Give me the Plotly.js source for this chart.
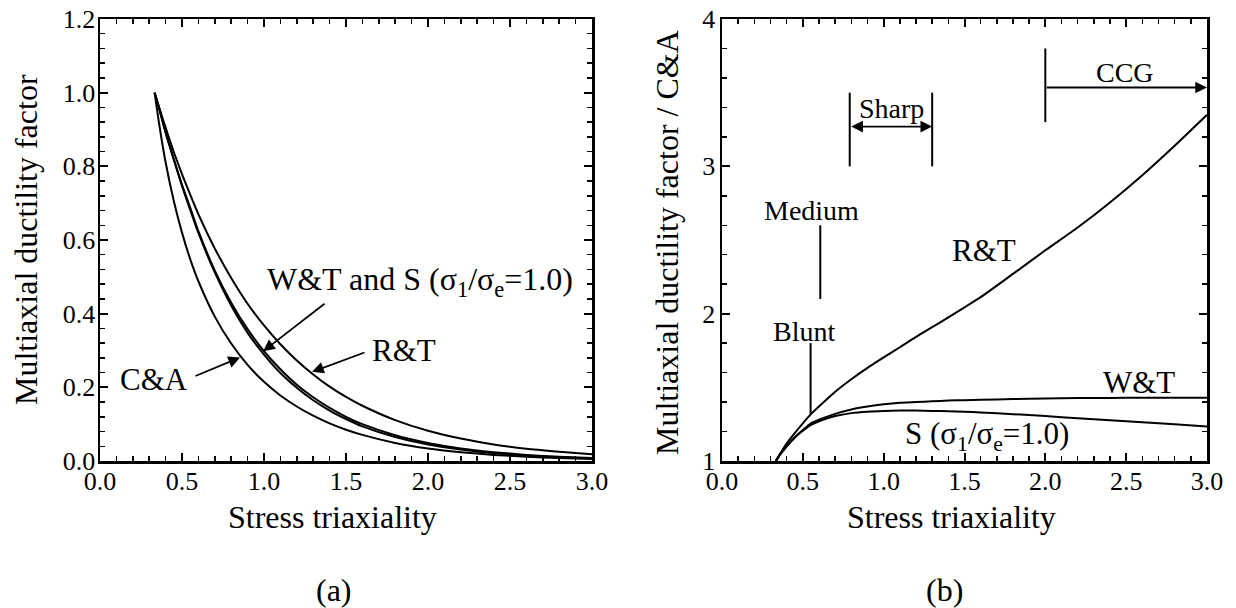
<!DOCTYPE html>
<html>
<head>
<meta charset="utf-8">
<script src="https://cdn.plot.ly/plotly-3.0.1.min.js"></script>
<style>html,body{margin:0;padding:0;background:#fff;}#chart{width:1236px;height:608px;}</style>
</head>
<body>
<div id="chart"></div>
<script>
// ---------------- data ----------------
// Stress triaxiality sample points
const triax = [0.333, 0.36, 0.4, 0.45, 0.5, 0.55, 0.6, 0.7, 0.8, 0.9, 1.0, 1.1, 1.2, 1.3, 1.4, 1.5, 1.6, 1.8, 2.0, 2.2, 2.4, 2.6, 2.8, 3.0];

// (a) Multiaxial ductility factor
const mdfCA = [1.0, 0.917, 0.811, 0.706, 0.620, 0.548, 0.488, 0.392, 0.319, 0.261, 0.215, 0.178, 0.148, 0.123, 0.102, 0.085, 0.071, 0.049, 0.034, 0.024, 0.0166, 0.0116, 0.0081, 0.0056];
const mdfRT = [1.0, 0.961, 0.905, 0.839, 0.779, 0.723, 0.670, 0.577, 0.497, 0.427, 0.368, 0.317, 0.273, 0.235, 0.202, 0.174, 0.150, 0.111, 0.082, 0.061, 0.045, 0.033, 0.025, 0.018];
const mdfWT = [1.0, 0.958, 0.892, 0.819, 0.750, 0.688, 0.624, 0.517, 0.430, 0.358, 0.298, 0.249, 0.207, 0.173, 0.144, 0.120, 0.100, 0.070, 0.049, 0.034, 0.024, 0.0166, 0.0115, 0.0080];
const mdfS  = [1.0, 0.958, 0.892, 0.819, 0.747, 0.682, 0.619, 0.512, 0.422, 0.348, 0.289, 0.239, 0.199, 0.165, 0.137, 0.114, 0.094, 0.065, 0.045, 0.031, 0.021, 0.0146, 0.0101, 0.0069];

// (b) Multiaxial ductility factor / C&A
const ratioRT = [1.0, 1.05, 1.12, 1.19, 1.256, 1.318, 1.37, 1.47, 1.555, 1.632, 1.703, 1.772, 1.842, 1.908, 1.975, 2.043, 2.112, 2.27, 2.43, 2.585, 2.755, 2.94, 3.14, 3.35];
const ratioWT = [1.0, 1.045, 1.10, 1.16, 1.21, 1.255, 1.28, 1.32, 1.35, 1.37, 1.385, 1.395, 1.40, 1.405, 1.41, 1.413, 1.415, 1.42, 1.425, 1.427, 1.428, 1.429, 1.43, 1.43];
const ratioS  = [1.0, 1.045, 1.10, 1.16, 1.205, 1.245, 1.27, 1.305, 1.325, 1.335, 1.34, 1.342, 1.342, 1.34, 1.338, 1.335, 1.33, 1.318, 1.305, 1.29, 1.277, 1.263, 1.25, 1.235];

// Notch-type ranges on panel (b)
const notchNames  = ['Blunt', 'Medium', 'Sharp', 'CCG'];
const bluntMark   = {x: 0.548, y: [1.317, 1.80]};
const mediumMark  = {x: 0.608, y: [2.10, 2.60]};
const sharpMarks  = {x: [0.79, 1.30], y: [3.0, 3.5], arrowY: 3.27};
const ccgMark     = {x: [2.0, 3.0], y: [3.30, 3.80], arrowY: 3.535};

// ---------------- drawing ----------------
const FONT = 'Liberation Serif, Times New Roman, serif';
const black = '#000';
const lineStyle = {color: black, width: 2, shape: 'spline', smoothing: 0.6};

const traces = [
  {x: triax, y: mdfCA, xaxis: 'x', yaxis: 'y', mode: 'lines', line: lineStyle, name: 'C&A'},
  {x: triax, y: mdfRT, xaxis: 'x', yaxis: 'y', mode: 'lines', line: lineStyle, name: 'R&T'},
  {x: triax, y: mdfWT, xaxis: 'x', yaxis: 'y', mode: 'lines', line: lineStyle, name: 'W&T'},
  {x: triax, y: mdfS,  xaxis: 'x', yaxis: 'y', mode: 'lines', line: lineStyle, name: 'S'},
  {x: triax, y: ratioRT, xaxis: 'x2', yaxis: 'y2', mode: 'lines', line: lineStyle, name: 'R&T/C&A'},
  {x: triax, y: ratioWT, xaxis: 'x2', yaxis: 'y2', mode: 'lines', line: lineStyle, name: 'W&T/C&A'},
  {x: triax, y: ratioS,  xaxis: 'x2', yaxis: 'y2', mode: 'lines', line: lineStyle, name: 'S/C&A'}
];

const W = 1236, H = 608;
const px = v => v / W, py = v => (H - v) / H;

function axisBase(extra) {
  return Object.assign({
    showline: true, linecolor: black, linewidth: 2.5, mirror: 'allticks',
    ticks: 'inside', ticklen: 8, tickwidth: 2, tickcolor: black,
    showgrid: false, zeroline: false,
    tickfont: {family: FONT, size: 26, color: black},
    fixedrange: true
  }, extra);
}
const minorX = {dtick: 0.1, ticklen: 5, tickwidth: 1.5, ticks: 'inside', tickcolor: black};

const layout = {
  width: W, height: H,
  margin: {l: 0, r: 0, t: 0, b: 0},
  paper_bgcolor: '#fff', plot_bgcolor: '#fff',
  showlegend: false,
  font: {family: FONT, color: black},
  xaxis: axisBase({domain: [px(100), px(592)], range: [0, 3], dtick: 0.5, tick0: 0, tickformat: '.1f', anchor: 'y',
    ticklabelstandoff: -5, minor: minorX}),
  yaxis: axisBase({domain: [py(461), py(19)], range: [0, 1.2], dtick: 0.2, tick0: 0, tickformat: '.1f', anchor: 'x',
    ticklabelstandoff: -3, minor: {dtick: 0.04, ticklen: 5, tickwidth: 1.5, ticks: 'inside', tickcolor: black}}),
  xaxis2: axisBase({domain: [px(722), px(1207)], range: [0, 3], dtick: 0.5, tick0: 0, tickformat: '.1f', anchor: 'y2',
    ticklabelstandoff: -5, minor: minorX}),
  yaxis2: axisBase({domain: [py(461), py(19)], range: [1, 4], dtick: 1, tick0: 1, anchor: 'x2',
    ticklabelstandoff: -1, minor: {dtick: 0.2, ticklen: 5, tickwidth: 1.5, ticks: 'inside', tickcolor: black}}),
  shapes: [],
  annotations: []
};

const txt = (text, x, y, xref, yref, size, extra) => Object.assign({
  text: text, x: x, y: y, xref: xref, yref: yref, showarrow: false,
  xanchor: 'center', yanchor: 'middle', font: {family: FONT, size: size || 31, color: black}
}, extra || {});

const arrow = (x, y, ax, ay, xr, yr, extra) => Object.assign({
  text: '', x: x, y: y, ax: ax, ay: ay, xref: xr, yref: yr, axref: xr, ayref: yr,
  showarrow: true, arrowhead: 2, arrowsize: 1.3, arrowwidth: 1.8, arrowcolor: black
}, extra || {});

const A = layout.annotations;
// axis titles and panel labels
A.push(txt('Multiaxial ductility factor', px(26), py(240), 'paper', 'paper', 32, {textangle: -90}));
A.push(txt('Stress triaxiality', 1.42, py(517), 'x', 'paper', 32));
A.push(txt('(a)', px(334), py(590), 'paper', 'paper', 32));
A.push(txt('Multiaxial ductility factor / C&A', px(667), py(242), 'paper', 'paper', 32, {textangle: -90}));
A.push(txt('Stress triaxiality', 1.42, py(517), 'x2', 'paper', 32));
A.push(txt('(b)', px(944), py(590), 'paper', 'paper', 32));

// panel (a) labels
A.push(txt('W&T and S (σ<sub>1</sub>/σ<sub>e</sub>=1.0)', 1.95, 0.487, 'x', 'y', 32));
A.push(arrow(0.995, 0.298, 1.378, 0.430, 'x', 'y'));
A.push(txt('R&T', 1.854, 0.299, 'x', 'y'));
A.push(arrow(1.293, 0.242, 1.622, 0.296, 'x', 'y'));
A.push(txt('C&A', 0.329, 0.222, 'x', 'y'));
A.push(arrow(0.854, 0.281, 0.573, 0.229, 'x', 'y'));

// panel (b) labels
A.push(txt('R&T', 1.62, 2.43, 'x2', 'y2'));
A.push(txt('W&T', 2.58, 1.53, 'x2', 'y2'));
A.push(txt('S (σ<sub>1</sub>/σ<sub>e</sub>=1.0)', 1.64, 1.17, 'x2', 'y2'));
A.push(txt(notchNames[0], 0.506, 1.88, 'x2', 'y2', 28));
A.push(txt(notchNames[1], 0.556, 2.70, 'x2', 'y2', 28));
A.push(txt(notchNames[2], 1.05, 3.39, 'x2', 'y2', 28));
A.push(txt(notchNames[3], 2.49, 3.64, 'x2', 'y2', 28));
A.push(arrow(sharpMarks.x[1], sharpMarks.arrowY, sharpMarks.x[0], sharpMarks.arrowY, 'x2', 'y2', {arrowside: 'end+start'}));
A.push(arrow(ccgMark.x[1], ccgMark.arrowY, ccgMark.x[0], ccgMark.arrowY, 'x2', 'y2'));

const S = layout.shapes;
const vline = (x, y0, y1) => ({type: 'line', xref: 'x2', yref: 'y2', x0: x, x1: x, y0: y0, y1: y1, line: {color: black, width: 2}});
S.push(vline(bluntMark.x, bluntMark.y[0], bluntMark.y[1]));
S.push(vline(mediumMark.x, mediumMark.y[0], mediumMark.y[1]));
S.push(vline(sharpMarks.x[0], sharpMarks.y[0], sharpMarks.y[1]));
S.push(vline(sharpMarks.x[1], sharpMarks.y[0], sharpMarks.y[1]));
S.push(vline(ccgMark.x[0], ccgMark.y[0], ccgMark.y[1]));

Plotly.newPlot('chart', traces, layout, {displayModeBar: false, staticPlot: true});
</script>
</body>
</html>
